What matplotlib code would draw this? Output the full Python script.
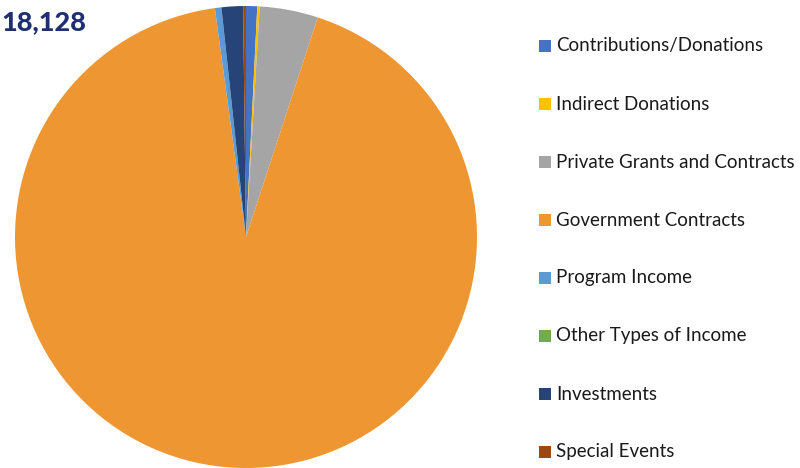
import matplotlib
matplotlib.use("Agg")
import matplotlib.pyplot as plt
from matplotlib.patches import Rectangle

# revenue sources, in drawing order (clockwise from 12 o'clock)
labels = ["Contributions/Donations", "Indirect Donations", "Private Grants and Contracts",
          "Government Contracts", "Program Income", "Other Types of Income",
          "Investments", "Special Events"]
values = [141, 31, 740, 16826, 82, 0, 272, 36]
colors = ["#4472C4", "#FFC000", "#A5A5A5", "#ED9632", "#5B9BD5", "#70AD47",
          "#264478", "#9E480E"]
total_label = "18,128"

plt.rcParams["font.family"] = ["Lato", "DejaVu Sans"]

fig = plt.figure(figsize=(8, 4.68), dpi=100)
ax = fig.add_axes([15 / 800, 0 / 468, 462 / 800, 462 / 468])
ax.pie(values, colors=colors, startangle=90, counterclock=False, radius=1,
       wedgeprops=dict(linewidth=0))
ax.set_xlim(-1, 1)
ax.set_ylim(-1, 1)
ax.set_aspect("equal")
ax.axis("off")

fig.text(1 / 800, 1 - 22 / 468, total_label, fontsize=19.5, fontweight="black",
         color="#1F2F72", va="center", ha="left")

# legend
y0 = 46
step = 58
for i, (lab, col) in enumerate(zip(labels, colors)):
    yc = y0 + i * step
    fig.patches.append(Rectangle((539 / 800, 1 - (yc + 6) / 468), 12 / 800, 12 / 468,
                                 transform=fig.transFigure, facecolor=col, edgecolor="none"))
    fig.text(556 / 800, 1 - yc / 468, lab, fontsize=13.5, color="#1a1a1a",
             va="center", ha="left")

fig.savefig("out.png", dpi=100)
